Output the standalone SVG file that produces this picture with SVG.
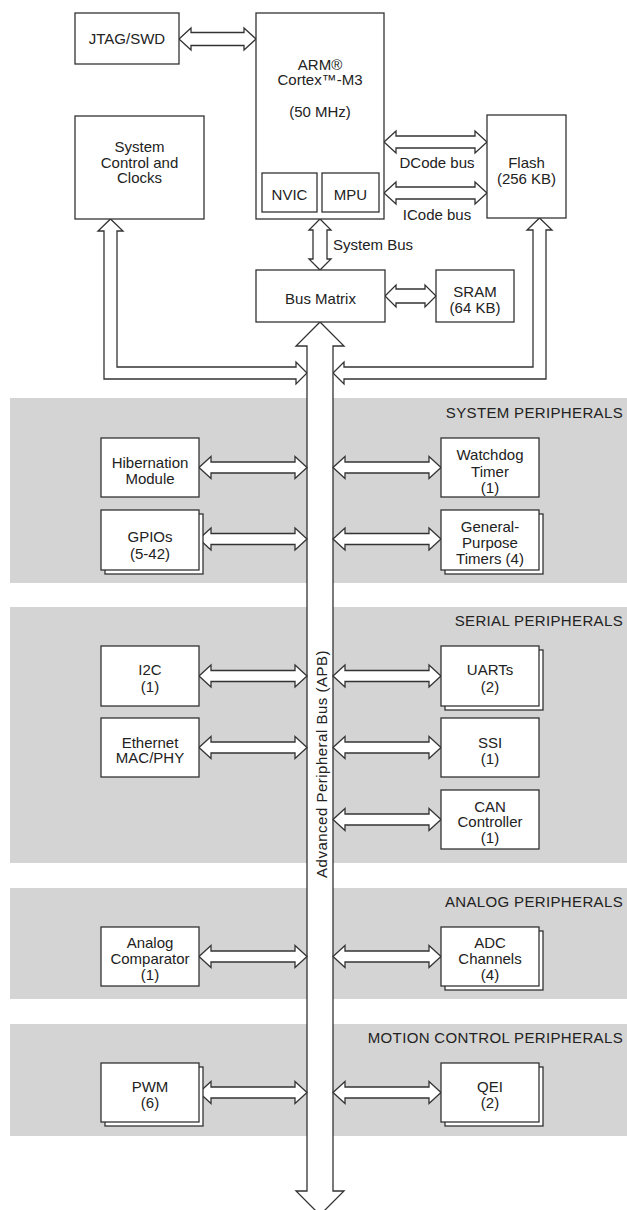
<svg xmlns="http://www.w3.org/2000/svg" width="627" height="1210" viewBox="0 0 627 1210">
<style>
.band{fill:#d4d4d4;stroke:none}
.box{fill:#fff;stroke:#333;stroke-width:1.3}
.arr{fill:#fff;stroke:#333;stroke-width:1.3;stroke-linejoin:miter}
text{font-family:"Liberation Sans",Arial,sans-serif;font-size:15px;fill:#222}
.c{text-anchor:middle}
.h{text-anchor:end;letter-spacing:0.35px}
</style>
<defs>
<polygon id="arrL" points="199,0 211,-11 211,-5.5 295,-5.5 295,-11 307,0 295,11 295,5.5 211,5.5 211,11"/>
<polygon id="arrR" points="333,0 345,-11 345,-5.5 429,-5.5 429,-11 441,0 429,11 429,5.5 345,5.5 345,11"/>
</defs>
<rect fill="#fff" width="627" height="1210"/>
<g id="bands">
<rect class="band" x="10" y="398" width="617" height="185"/>
<rect class="band" x="10" y="607" width="617" height="256"/>
<rect class="band" x="10" y="888" width="617" height="111"/>
<rect class="band" x="10" y="1024" width="617" height="112"/>
<text class="h" x="623" y="418">SYSTEM PERIPHERALS</text>
<text class="h" x="623" y="626">SERIAL PERIPHERALS</text>
<text class="h" x="623" y="907">ANALOG PERIPHERALS</text>
<text class="h" x="623" y="1043">MOTION CONTROL PERIPHERALS</text>
</g>
<g id="connectors" class="arr">
<polygon points="179,39 191,28 191,32.5 244,32.5 244,28 256,39 244,50 244,45.5 191,45.5 191,50"/>
<polygon points="384,142 396,131 396,136 475,136 475,131 487,142 475,153 475,148 396,148 396,153"/>
<polygon points="384,193 396,182 396,187 475,187 475,182 487,193 475,204 475,199 396,199 396,204"/>
<polygon points="385,296 396,285 396,289 425,289 425,285 436,296 425,307 425,303 396,303 396,307"/>
<polygon points="320,219 331,230 327,230 327,259 331,259 320,270 309,259 313,259 313,230 309,230"/>
<polygon points="110.5,219 123,231 117,231 117,367 296,367 296,362 307,373 296,384 296,379 104,379 104,231 98,231"/>
<polygon points="539.5,218 552,230 546,230 546,379 344,379 344,384 333,373 344,362 344,367 533,367 533,230 527,230"/>
<polygon points="320,322 344,346 333,346 333,1191 344,1191 320,1215 296,1191 307,1191 307,346 296,346"/>
<use href="#arrL" y="467.5"/>
<use href="#arrR" y="467.5"/>
<use href="#arrL" y="539"/>
<use href="#arrR" y="539"/>
<use href="#arrL" y="676"/>
<use href="#arrR" y="676"/>
<use href="#arrL" y="747.5"/>
<use href="#arrR" y="747.5"/>
<use href="#arrR" y="819.5"/>
<use href="#arrL" y="956.5"/>
<use href="#arrR" y="956.5"/>
<use href="#arrL" y="1092.5"/>
<use href="#arrR" y="1092.5"/>
</g>
<g id="labels">
<text class="c" x="437" y="168">DCode bus</text>
<text class="c" x="437" y="220">ICode bus</text>
<text x="333" y="250">System Bus</text>
<text class="c" transform="translate(327,764) rotate(-90)" style="letter-spacing:0.5px">Advanced Peripheral Bus (APB)</text>
</g>
<g id="jtag"><rect class="box" x="75" y="13" width="104" height="51"/><text class="c" x="127" y="44">JTAG/SWD</text></g>
<g id="cpu"><rect class="box" x="256" y="13" width="128" height="206"/>
<text class="c" x="320" y="70">ARM®</text><text class="c" x="320" y="85">Cortex™-M3</text><text class="c" x="320" y="117">(50 MHz)</text></g>
<g id="nvic"><rect class="box" x="262" y="173" width="55" height="39"/><text class="c" x="289.5" y="200">NVIC</text></g>
<g id="mpu"><rect class="box" x="322" y="173" width="57" height="39"/><text class="c" x="350.5" y="200">MPU</text></g>
<g id="sysctl"><rect class="box" x="75" y="116" width="129" height="103"/>
<text class="c" x="139.5" y="152">System</text><text class="c" x="139.5" y="167.5">Control and</text><text class="c" x="139.5" y="183">Clocks</text></g>
<g id="flash"><rect class="box" x="487" y="115" width="79" height="103"/>
<text class="c" x="526.5" y="168">Flash</text><text class="c" x="526.5" y="184">(256 KB)</text></g>
<g id="busmatrix"><rect class="box" x="256" y="270" width="129" height="52"/><text class="c" x="320.5" y="304">Bus Matrix</text></g>
<g id="sram"><rect class="box" x="436" y="270" width="78" height="52"/>
<text class="c" x="475" y="297">SRAM</text><text class="c" x="475" y="313">(64 KB)</text></g>
<g id="hibernation"><rect class="box" x="101" y="438" width="98" height="59"/>
<text class="c" x="150" y="467.5">Hibernation</text><text class="c" x="150" y="483.5">Module</text></g>
<g id="watchdog"><rect class="box" x="441" y="438" width="98" height="59"/>
<text class="c" x="490" y="460">Watchdog</text><text class="c" x="490" y="476.5">Timer</text><text class="c" x="490" y="492.5">(1)</text></g>
<g id="gpios"><rect class="box" x="105" y="514" width="98" height="60"/><rect class="box" x="101" y="510" width="98" height="60"/>
<text class="c" x="150" y="542">GPIOs</text><text class="c" x="150" y="558.5">(5-42)</text></g>
<g id="gptimers"><rect class="box" x="445" y="514" width="98" height="60"/><rect class="box" x="441" y="510" width="98" height="60"/>
<text class="c" x="490" y="532">General-</text><text class="c" x="490" y="548">Purpose</text><text class="c" x="490" y="564">Timers (4)</text></g>
<g id="i2c"><rect class="box" x="101" y="646" width="98" height="60"/>
<text class="c" x="150" y="675">I2C</text><text class="c" x="150" y="692">(1)</text></g>
<g id="uarts"><rect class="box" x="445" y="650" width="98" height="60"/><rect class="box" x="441" y="646" width="98" height="60"/>
<text class="c" x="490" y="675">UARTs</text><text class="c" x="490" y="692">(2)</text></g>
<g id="ethernet"><rect class="box" x="101" y="718" width="98" height="59"/>
<text class="c" x="150" y="748">Ethernet</text><text class="c" x="150" y="763">MAC/PHY</text></g>
<g id="ssi"><rect class="box" x="441" y="718" width="98" height="59"/>
<text class="c" x="490" y="748">SSI</text><text class="c" x="490" y="764">(1)</text></g>
<g id="can"><rect class="box" x="441" y="790" width="98" height="59"/>
<text class="c" x="490" y="812">CAN</text><text class="c" x="490" y="827">Controller</text><text class="c" x="490" y="843">(1)</text></g>
<g id="comparator"><rect class="box" x="101" y="927" width="98" height="59"/>
<text class="c" x="150" y="948">Analog</text><text class="c" x="150" y="964">Comparator</text><text class="c" x="150" y="980">(1)</text></g>
<g id="adc"><rect class="box" x="445" y="931" width="98" height="59"/><rect class="box" x="441" y="927" width="98" height="59"/>
<text class="c" x="490" y="948">ADC</text><text class="c" x="490" y="964">Channels</text><text class="c" x="490" y="980">(4)</text></g>
<g id="pwm"><rect class="box" x="105" y="1067" width="98" height="59"/><rect class="box" x="101" y="1063" width="98" height="59"/>
<text class="c" x="150" y="1092">PWM</text><text class="c" x="150" y="1108">(6)</text></g>
<g id="qei"><rect class="box" x="445" y="1067" width="98" height="59"/><rect class="box" x="441" y="1063" width="98" height="59"/>
<text class="c" x="490" y="1092">QEI</text><text class="c" x="490" y="1108">(2)</text></g>
</svg>
